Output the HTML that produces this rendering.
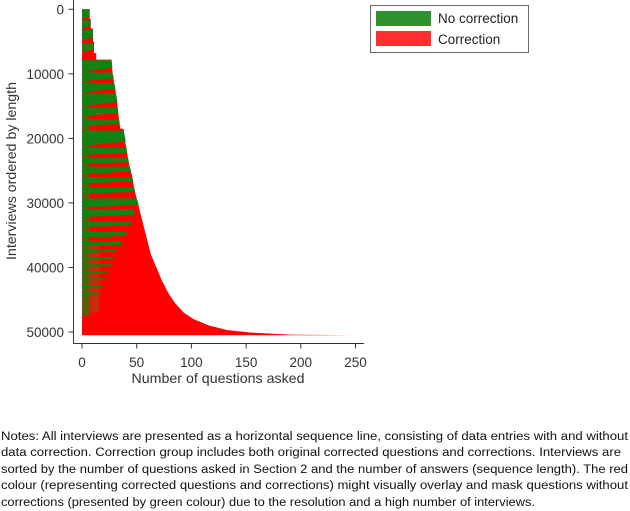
<!DOCTYPE html>
<html><head><meta charset="utf-8"><style>
html,body{margin:0;padding:0;background:#fff;width:630px;height:511px;overflow:hidden}
svg text{font-family:"Liberation Sans",sans-serif}
</style></head><body>
<svg id="chart" width="630" height="511" viewBox="0 0 630 511" xmlns="http://www.w3.org/2000/svg">
<g id="plot"></g>
<g id="axes"></g>
<g>
<rect x="370.5" y="5.5" width="158" height="47" fill="#fff" stroke="#666" stroke-width="1"/>
<rect x="376" y="11" width="55" height="15" fill="#2e922e"/>
<text x="438" y="23" font-size="13.5" fill="#222">No correction</text>
<rect x="376" y="31" width="55" height="15" fill="#ff3030"/>
<text x="438" y="44" font-size="13.5" fill="#222">Correction</text>
</g>
<g font-size="11.5" fill="#111">
<text x="1" y="440" textLength="627" lengthAdjust="spacingAndGlyphs">Notes: All interviews are presented as a horizontal sequence line, consisting of data entries with and without</text>
<text x="1" y="456" textLength="620" lengthAdjust="spacingAndGlyphs">data correction. Correction group includes both original corrected questions and corrections. Interviews are</text>
<text x="1" y="473" textLength="627" lengthAdjust="spacingAndGlyphs">sorted by the number of questions asked in Section 2 and the number of answers (sequence length). The red</text>
<text x="1" y="489" textLength="627" lengthAdjust="spacingAndGlyphs">colour (representing corrected questions and corrections) might visually overlay and mask questions without</text>
<text x="1" y="506" textLength="534" lengthAdjust="spacingAndGlyphs">corrections (presented by green colour) due to the resolution and a high number of interviews.</text>
</g>
</svg>
<script>
const profileRows=[0,1500,1500,3000,3000,5000,5000,6800,6800,7800,7800,10000,12000,14000,16000,18500,18500,20000,22000,24000,26000,28000,30000,32000,34000,36000,38000,40000,42000,44000,45500,47000,48000,49000,49700,50100,50400,50500];
const profileLen=[7,7,8,8,10,10,11,11,13,13,27,28,30,32,33,35,38,39,41,43,46,48,51,54,57,60,63,68,73,79,85,93,102,116,133,155,190,246];
const greenStart=[0,1700,3200,5200,7900,9800,11400,13000,15200,17000,18800,21400,23000,24400,26000,27600,29300,31000,32800,34500,36000,37200,38400,39500,40600,41700,42800,43900];
const greenEnd=[1400,2900,4700,6500,9500,11000,12700,14800,16400,18000,21000,22500,23900,25400,26900,28500,30600,32100,33700,35300,36700,37700,38800,39900,40900,42000,43100,44200];
const greenFrac=[1,1,1,1,1,1,1,1,1,1,1,1,1,1,1,1,1,0.9,0.8,0.7,0.6,0.5,0.45,0.4,0.35,0.3,0.25,0.2];
const xTicks=[0,50,100,150,200,250];
const yTicks=[0,10000,20000,30000,40000,50000];
const NS="http://www.w3.org/2000/svg";
const xs=v=>82+v*(355.5-82)/250;
const ys=v=>9.3+v*(332-9.3)/50000;
function lenAt(r){for(let i=0;i<profileRows.length-1;i++){if(r>=profileRows[i]&&r<=profileRows[i+1]){const a=profileRows[i],b=profileRows[i+1];if(b===a)return profileLen[i+1];return profileLen[i]+(profileLen[i+1]-profileLen[i])*(r-a)/(b-a);}}return profileLen[profileLen.length-1];}
const plot=document.getElementById('plot');
const axes=document.getElementById('axes');
let d='M'+xs(0)+','+ys(profileRows[0]);
for(let i=0;i<profileRows.length;i++)d+=' L'+xs(profileLen[i])+','+ys(profileRows[i]);
d+=' L'+xs(0)+','+ys(profileRows[profileRows.length-1])+' Z';
const red=document.createElementNS(NS,'path');
red.setAttribute('d',d);red.setAttribute('fill','#ff0000');


plot.appendChild(red);
// left green strip (dominant green near start of sequences)
const fg=document.createElementNS(NS,'rect');
fg.setAttribute('x',xs(0));fg.setAttribute('y',ys(7800));fg.setAttribute('width',xs(7)-xs(0));fg.setAttribute('height',ys(47500)-ys(7800));
fg.setAttribute('fill','#2a7a10');fg.setAttribute('opacity','0.75');


plot.appendChild(fg);
const fg2=document.createElementNS(NS,'rect');
fg2.setAttribute('x',xs(7));fg2.setAttribute('y',ys(36000));fg2.setAttribute('width',xs(16)-xs(7));fg2.setAttribute('height',ys(47000)-ys(36000));
fg2.setAttribute('fill','#7a6a10');fg2.setAttribute('opacity','0.4');


plot.appendChild(fg2);
for(let i=0;i<greenStart.length;i++){
 const a=greenStart[i],b=greenEnd[i],f=greenFrac[i];
 const wa=lenAt(a)*f,wb=lenAt(b)*f;
 const p=document.createElementNS(NS,'path');
 p.setAttribute('d','M'+xs(0)+','+ys(a)+' L'+xs(wa)+','+ys(a)+' L'+xs(wb)+','+ys(b-(b-a)*0.25)+' L'+xs(wb*0.3)+','+ys(b)+' L'+xs(0)+','+ys(b)+' Z');
 p.setAttribute('fill','#128212');
 
 
 plot.appendChild(p);
}
function line(x1,y1,x2,y2,name){const l=document.createElementNS(NS,'line');l.setAttribute('x1',x1);l.setAttribute('y1',y1);l.setAttribute('x2',x2);l.setAttribute('y2',y2);l.setAttribute('stroke','#333');l.setAttribute('stroke-width','1');


axes.appendChild(l);}
function txt(x,y,s,anchor,size,name,rot,tl){const t=document.createElementNS(NS,'text');t.setAttribute('x',x);t.setAttribute('y',y);t.setAttribute('text-anchor',anchor);t.setAttribute('font-size',size);t.setAttribute('fill','#333');if(rot)t.setAttribute('transform',rot);if(tl){t.setAttribute('textLength',tl);t.setAttribute('lengthAdjust','spacingAndGlyphs');}t.textContent=s;


axes.appendChild(t);}
line(73.5,0,73.5,343.5,'y-axis-line');
line(73.5,343.5,364,343.5,'x-axis-line');
xTicks.forEach(v=>{line(xs(v),343.5,xs(v),348.5,'x-tick');txt(xs(v),367,String(v),'middle',13.5,'x-tick-label');});
yTicks.forEach(v=>{line(68.5,ys(v),73.5,ys(v),'y-tick');txt(64,ys(v)+5,String(v),'end',13.5,'y-tick-label');});
txt(218,383,'Number of questions asked','middle',14,'x-axis-title',null,173);
txt(0,0,'Interviews ordered by length','middle',14,'y-axis-title','translate(16,171) rotate(-90)',178);
</script>
</body></html>
